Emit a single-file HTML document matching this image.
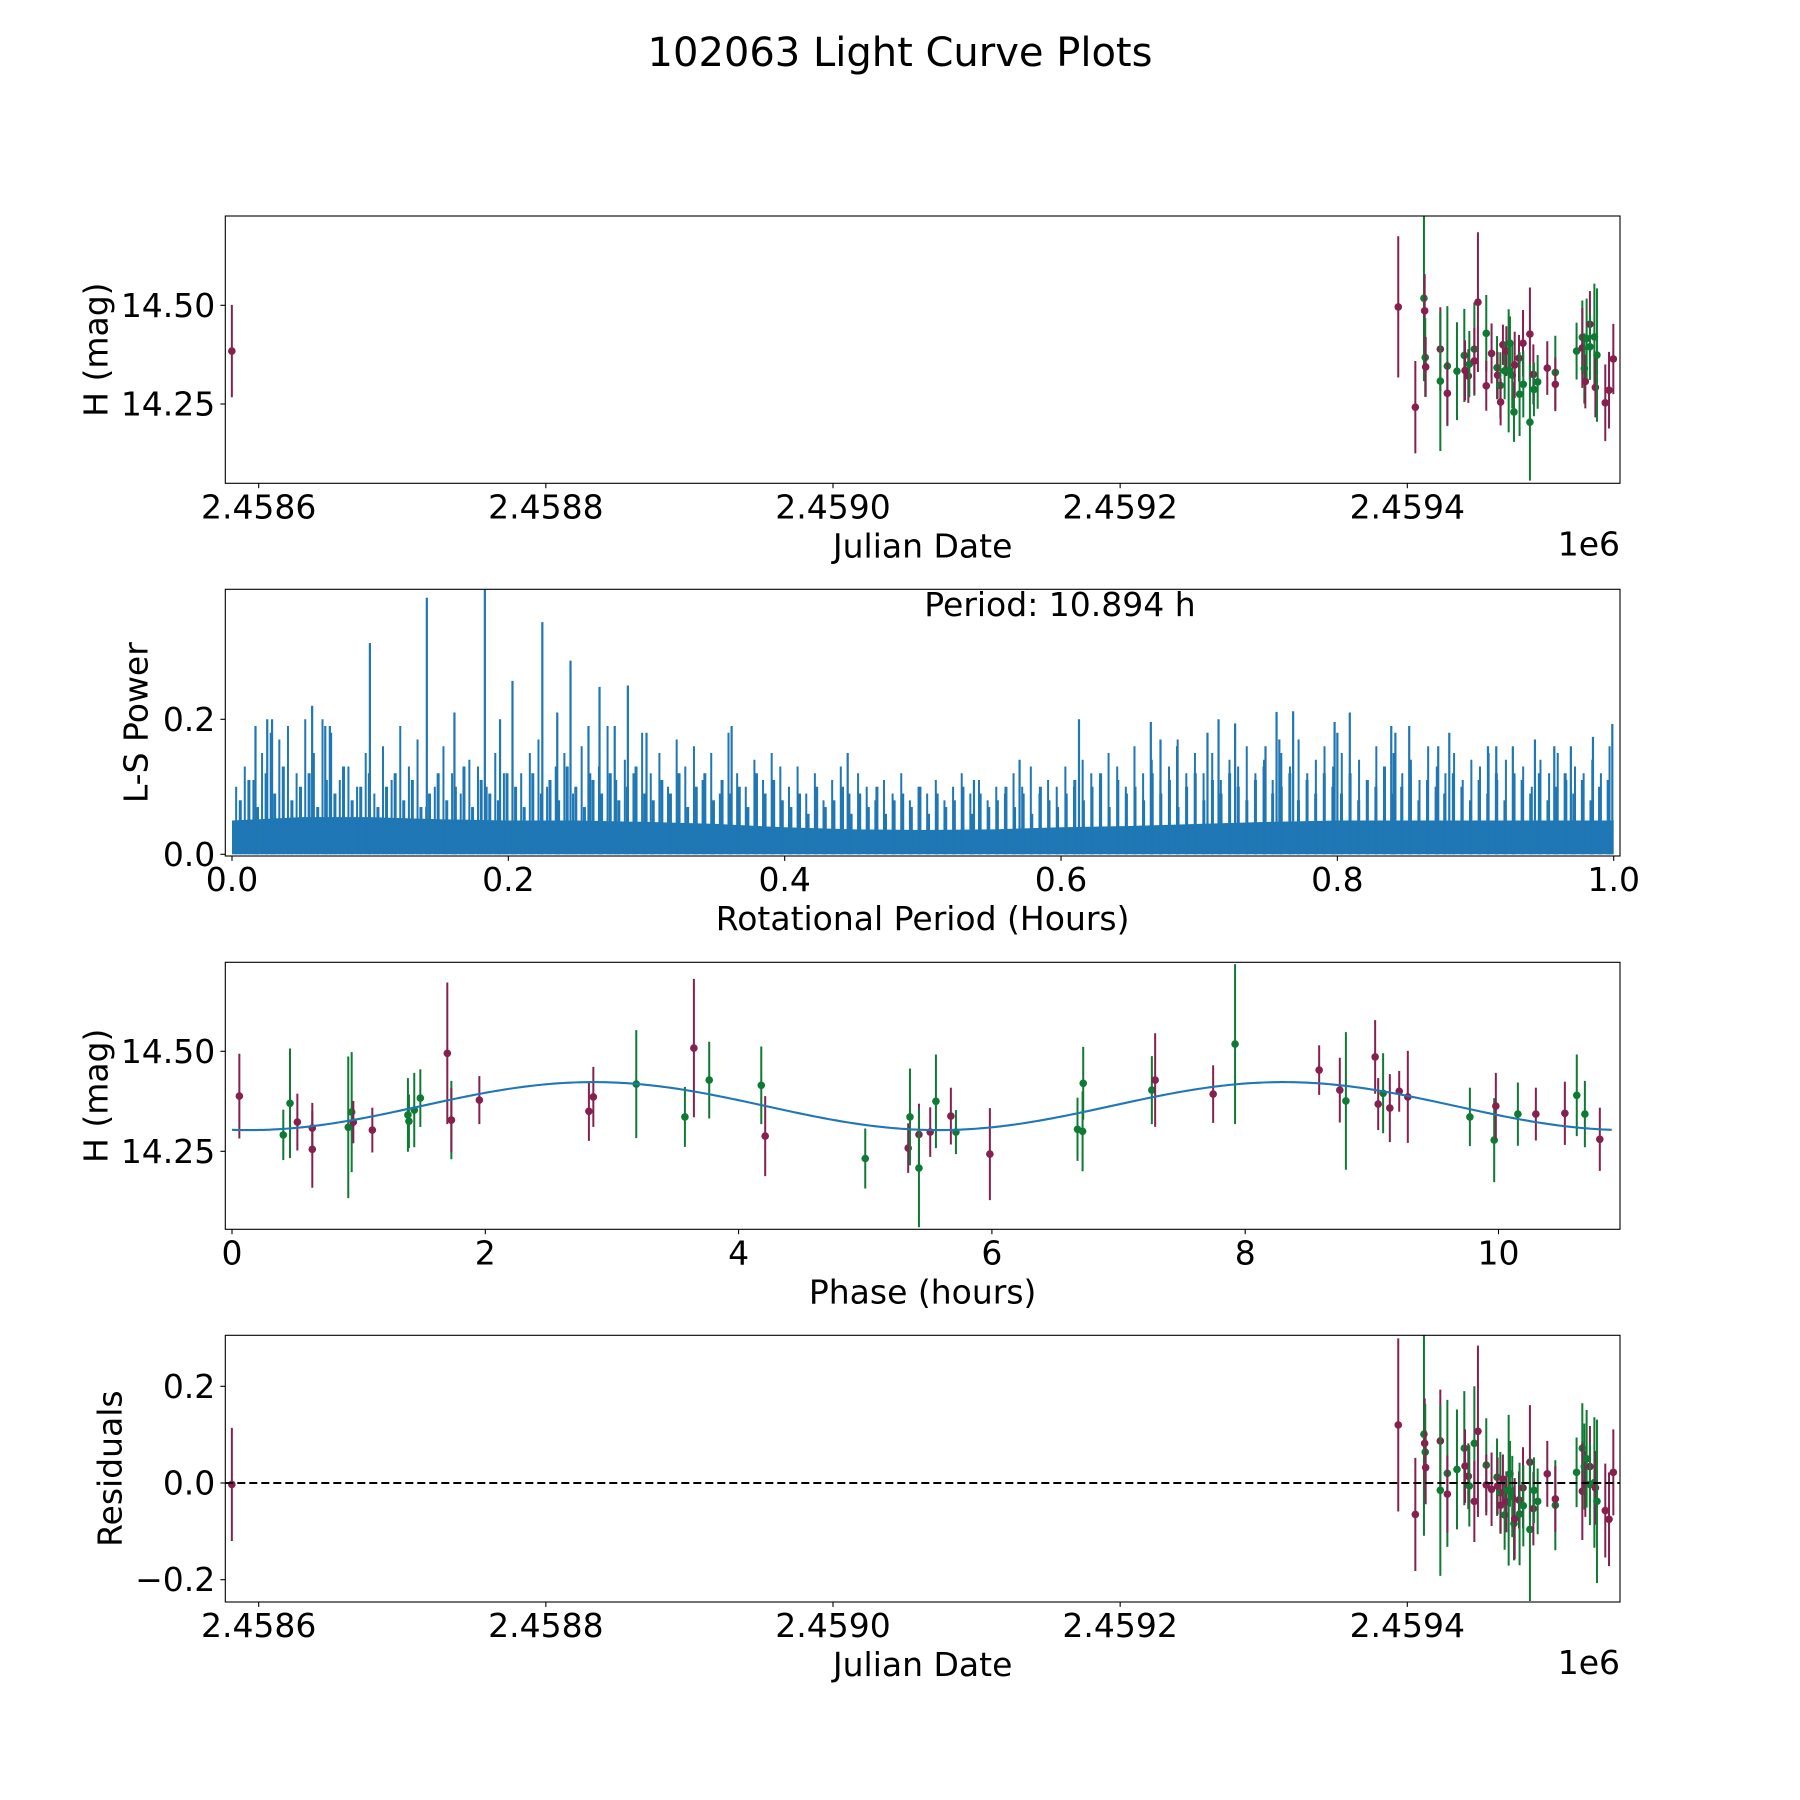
<!DOCTYPE html>
<html><head><meta charset="utf-8"><style>
html,body{margin:0;padding:0;background:#fff;}
svg{display:block;font-family:"DejaVu Sans","Liberation Sans",sans-serif;}
</style></head><body>
<svg id="fig" width="1800" height="1800" viewBox="0 0 1800 1800" xmlns="http://www.w3.org/2000/svg">
<rect x="0" y="0" width="1800" height="1800" fill="#fff"/>
<text x="900" y="66" font-size="40" text-anchor="middle">102063 Light Curve Plots</text>
</svg>
<script>
// ---------- data ----------
const jdTickValues = [2458600, 2458800, 2459000, 2459200, 2459400];
const jdTickLabels = ["2.4586","2.4588","2.4590","2.4592","2.4594"];
const jdValues = [2458581.3,2459393.7,2459405.6,2459411.6,2459412.1,2459412.5,2459412.8,2459423.0,2459423.0,2459427.9,2459427.9,2459434.6,2459439.7,2459440.2,2459442.5,2459443.2,2459446.7,2459446.7,2459449.2,2459455.0,2459455.0,2459458.7,2459462.5,2459462.9,2459464.8,2459465.0,2459466.6,2459467.8,2459469.0,2459470.6,2459471.5,2459473.1,2459474.3,2459474.8,2459477.8,2459478.2,2459480.6,2459480.8,2459485.4,2459485.4,2459487.8,2459488.2,2459490.8,2459497.5,2459503.1,2459503.1,2459517.9,2459521.9,2459521.9,2459523.3,2459524.0,2459524.9,2459527.2,2459527.2,2459530.3,2459531.0,2459532.1,2459537.9,2459540.5,2459543.5];
const magValues = [14.384,14.496,14.242,14.518,14.486,14.368,14.344,14.389,14.308,14.346,14.277,14.333,14.373,14.335,14.321,14.351,14.389,14.359,14.508,14.429,14.296,14.378,14.342,14.323,14.297,14.255,14.4,14.334,14.384,14.334,14.404,14.323,14.23,14.349,14.366,14.275,14.404,14.3,14.427,14.204,14.325,14.287,14.306,14.341,14.33,14.3,14.384,14.419,14.392,14.34,14.307,14.416,14.452,14.395,14.42,14.292,14.374,14.253,14.285,14.364];
const magErrors = [0.117,0.179,0.117,0.21,0.093,0.1,0.076,0.106,0.177,0.152,0.08,0.124,0.118,0.076,0.068,0.084,0.118,0.084,0.177,0.097,0.063,0.076,0.08,0.059,0.084,0.059,0.051,0.072,0.063,0.156,0.068,0.084,0.076,0.084,0.059,0.106,0.084,0.084,0.118,0.148,0.076,0.068,0.068,0.068,0.093,0.068,0.072,0.093,0.101,0.089,0.068,0.101,0.084,0.084,0.135,0.076,0.169,0.097,0.097,0.089];
const filterCodes = ["R","R","R","G","R","G","R","R","G","G","R","G","G","R","R","G","G","R","R","G","R","R","G","R","G","R","R","G","R","G","G","G","G","R","R","G","R","G","R","G","R","G","G","R","G","R","G","G","R","G","R","G","R","G","G","R","G","R","R","R"];
const residualValues = [-0.003,0.120,-0.065,0.101,0.082,0.064,0.032,0.087,-0.015,0.02,-0.023,0.028,0.072,0.035,0.014,-0.006,0.082,-0.038,0.107,0.037,-0.004,-0.013,0.012,-0.006,-0.02,-0.046,0.008,-0.066,-0.039,-0.015,0.019,-0.028,-0.084,-0.074,-0.035,-0.064,-0.01,-0.047,0.043,-0.096,-0.053,-0.015,-0.038,0.019,-0.046,-0.033,0.022,0.072,-0.017,0.034,-0.002,0.05,0.034,-0.003,0.001,-0.01,-0.038,-0.057,-0.075,0.022];

const phaseValues = [0.058,0.405,0.458,0.516,0.634,0.634,0.918,0.945,0.958,1.108,1.389,1.397,1.439,1.487,1.7,1.732,1.732,1.953,2.818,2.853,3.192,3.576,3.647,3.768,4.179,4.21,5.0,5.339,5.353,5.424,5.424,5.513,5.558,5.676,5.716,5.984,6.676,6.716,6.721,7.263,7.289,7.747,7.92,8.584,8.747,8.795,9.026,9.05,9.089,9.142,9.216,9.284,9.774,9.966,9.979,10.153,10.295,10.524,10.618,10.682,10.8];
const phaseMag = [14.388,14.291,14.37,14.323,14.308,14.255,14.31,14.348,14.323,14.303,14.341,14.325,14.353,14.383,14.495,14.328,14.328,14.378,14.35,14.386,14.418,14.336,14.508,14.428,14.415,14.288,14.232,14.258,14.336,14.292,14.208,14.298,14.375,14.338,14.298,14.243,14.305,14.3,14.42,14.403,14.428,14.393,14.518,14.453,14.403,14.376,14.486,14.368,14.395,14.358,14.4,14.386,14.336,14.278,14.363,14.343,14.343,14.345,14.39,14.343,14.28];
const phaseErr = [0.106,0.063,0.137,0.071,0.063,0.096,0.177,0.15,0.053,0.056,0.092,0.067,0.093,0.072,0.177,0.098,0.08,0.06,0.074,0.075,0.135,0.075,0.173,0.096,0.097,0.1,0.075,0.062,0.121,0.077,0.148,0.062,0.117,0.071,0.055,0.115,0.079,0.1,0.091,0.085,0.117,0.072,0.2,0.062,0.081,0.172,0.092,0.065,0.1,0.085,0.051,0.115,0.073,0.105,0.083,0.079,0.066,0.079,0.102,0.083,0.079];
const phaseFilter = ["R","G","G","R","R","R","G","G","R","R","G","G","G","G","R","G","R","R","R","R","G","G","R","G","G","R","G","R","G","R","G","R","G","R","G","R","G","G","G","G","R","R","G","R","R","G","R","R","G","R","R","R","G","G","R","G","R","R","G","G","R"];
const modelParams = [14.363, 0.06, 10.894, 0.13]; // mean, amplitude, rotation period (h), phase offset (h)

const lsPeakFreq = [0.017,0.0255,0.029,0.058,0.0675,0.0708,0.0998,0.141,0.161,0.183,0.194,0.203,0.2246,0.2354,0.245,0.258,0.266,0.277,0.2865,0.3,0.3616,0.4456,0.537,0.57,0.613,0.665,0.672,0.684,0.706,0.714,0.726,0.748,0.756,0.758,0.768,0.798,0.8,0.809,0.839,0.842,0.852,0.873,0.881,0.909,0.915,0.927,0.943,0.957,0.969,0.985,0.999];
const lsPeakPower = [0.19,0.20,0.20,0.22,0.19,0.19,0.313,0.38,0.21,0.40,0.20,0.257,0.344,0.21,0.287,0.19,0.248,0.19,0.25,0.18,0.19,0.15,0.11,0.14,0.20,0.196,0.17,0.16,0.18,0.20,0.194,0.16,0.211,0.17,0.212,0.196,0.18,0.21,0.19,0.18,0.19,0.16,0.18,0.16,0.16,0.16,0.17,0.16,0.16,0.174,0.193];
const lsGrass = [0.10,0.13,0.11,0.15,0.18,0.17,0.19,0.12,0.20,0.15,0.20,0.18,0.11,0.13,0.10,0.15,
0.09,0.16,0.11,0.19,0.13,0.17,0.07,0.10,0.16,0.12,0.09,0.14,0.13,0.10,0.15,0.12,
0.14,0.12,0.15,0.17,0.10,0.13,0.15,0.09,0.16,0.12,0.13,0.19,0.11,0.14,0.12,0.18,
0.12,0.15,0.10,0.17,0.13,0.16,0.11,0.15,0.09,0.18,0.12,0.10,0.14,0.11,0.15,0.13,
0.10,0.13,0.09,0.12,0.08,0.11,0.13,0.09,0.12,0.10,0.08,0.11,0.09,0.12,0.08,0.10,
0.09,0.11,0.08,0.10,0.12,0.09,0.11,0.08,0.10,0.09,0.12,0.10,0.13,0.09,0.11,0.10,
0.13,0.10,0.14,0.12,0.11,0.15,0.13,0.10,0.16,0.12,0.14,0.11,0.13,0.17,0.12,0.15,
0.12,0.15,0.11,0.14,0.13,0.16,0.12,0.14,0.11,0.15,0.13,0.17,0.12,0.14,0.16,0.13,
0.15,0.12,0.14,0.11,0.16,0.13,0.15,0.12,0.14,0.11,0.16,0.13,0.12,0.15,0.11,0.14,
0.13,0.15,0.11,0.14,0.12,0.13,0.10,0.14,0.12,0.15,0.11,0.13,0.12,0.14,0.12,0.16];
const lsGrass2 = [0.08,0.11,0.07,0.12,0.09,0.13,0.08,0.10,0.12,0.07,0.11,0.09,0.13,0.08,0.10,0.12,
0.07,0.10,0.12,0.08,0.11,0.07,0.09,0.12,0.08,0.10,0.13,0.07,0.11,0.09,0.08,0.12,
0.10,0.07,0.12,0.09,0.11,0.08,0.13,0.10,0.07,0.11,0.09,0.12,0.08,0.10,0.13,0.09,
0.08,0.11,0.09,0.12,0.07,0.10,0.12,0.08,0.11,0.09,0.10,0.07,0.12,0.09,0.11,0.08,
0.07,0.09,0.06,0.10,0.07,0.08,0.10,0.06,0.09,0.07,0.10,0.06,0.08,0.09,0.07,0.10,
0.06,0.09,0.07,0.08,0.10,0.06,0.09,0.07,0.08,0.10,0.07,0.09,0.06,0.10,0.08,0.07,
0.09,0.11,0.08,0.10,0.12,0.07,0.11,0.09,0.10,0.08,0.12,0.09,0.11,0.07,0.10,0.12,
0.08,0.11,0.09,0.12,0.10,0.08,0.11,0.13,0.09,0.10,0.12,0.08,0.11,0.09,0.12,0.10,
0.09,0.12,0.08,0.11,0.10,0.13,0.09,0.10,0.12,0.08,0.11,0.10,0.09,0.12,0.10,0.08,
0.11,0.09,0.12,0.08,0.10,0.11,0.09,0.12,0.08,0.10,0.12,0.09,0.11,0.08,0.10,0.11];
const lsBody = [0.05,0.055,0.055,0.052,0.05,0.05,0.048,0.045,0.04,0.037,0.036,0.037,0.04,0.042,0.045,0.048,0.05,0.05,0.05,0.05,0.05];
const lsTickValues = [0.0,0.2,0.4,0.6,0.8,1.0];
const lsTickLabels = ["0.0","0.2","0.4","0.6","0.8","1.0"];
const lsYTicks = [0.0,0.2];
const lsYLabels = ["0.0","0.2"];
const magTicks = [14.25,14.50];
const magTickLabels = ["14.25","14.50"];
const phaseTicks = [0,2,4,6,8,10];
const phaseTickLabels = ["0","2","4","6","8","10"];
const residTicks = [-0.2,0.0,0.2];
const residTickLabels = ["\u22120.2","0.0","0.2"];

// ---------- rendering ----------
const NS = "http://www.w3.org/2000/svg";
const svg = document.getElementById("fig");
const COL = {R:"#86204f", G:"#0e7a33"};
const FS = 33;
function mk(tag, attrs, parent){const e=document.createElementNS(NS,tag);for(const k in attrs)e.setAttribute(k,attrs[k]);(parent||svg).appendChild(e);return e;}
function scale(d0,d1,r0,r1){return v=>r0+(v-d0)/(d1-d0)*(r1-r0);}

const L=225.3, R=1620;
function axesFrame(g, top, bot){
  const r=mk("rect",{x:L,y:top,width:R-L,height:bot-top,fill:"none",stroke:"#000","stroke-width":1.1},g);
  
  
}
function xTicks(g, bot, vals, labels, sx, name){
  vals.forEach((v,i)=>{
    const x=sx(v);
    mk("line",{x1:x,x2:x,y1:bot,y2:bot+4.9,stroke:"#000","stroke-width":1.1},g);
    const t=mk("text",{x:x,y:bot+35,"font-size":FS,"text-anchor":"middle"},g);
    t.textContent=labels[i];
    
    
  });
}
function yTicks(g, vals, labels, sy, name){
  vals.forEach((v,i)=>{
    const y=sy(v);
    mk("line",{x1:L-4.9,x2:L,y1:y,y2:y,stroke:"#000","stroke-width":1.1},g);
    const t=mk("text",{x:L-10,y:y,"font-size":FS,"text-anchor":"end","dominant-baseline":"central"},g);
    t.textContent=labels[i];
    
    
  });
}
function label(g, txt, x, y, rot, name, anchor){
  const t=mk("text",{x:x,y:y,"font-size":FS,"text-anchor":anchor||"middle"},g);
  if(rot){t.setAttribute("transform","rotate(-90 "+x+" "+y+")");t.setAttribute("dominant-baseline","central");}
  t.textContent=txt;
  
  
  return t;
}
function errPoints(g, xs, ys, es, cs, sx, sy, name, clipId){
  const eg=mk("g",{"clip-path":"url(#"+clipId+")"},g);
  xs.forEach((xv,i)=>{
    const x=sx(xv), c=COL[cs[i]];
    const bar=mk("line",{x1:x,x2:x,y1:sy(ys[i]+es[i]),y2:sy(ys[i]-es[i]),stroke:c,"stroke-width":2},eg);
    
    
    const p=mk("circle",{cx:x,cy:sy(ys[i]),r:3.8,fill:c},eg);
    
    
  });
}
function clip(id, top, bot){
  const d=mk("defs",{});const cp=mk("clipPath",{id:id},d);
  mk("rect",{x:L,y:top,width:R-L,height:bot-top},cp);
}

// Panel 1: light curve vs JD
(function(){
  const top=216,bot=483.3;
  const g=mk("g",{});
  
  
  clip("c1",top,bot);
  const sx=scale(2458600,2459400,258.7,1407.3);
  const sy=scale(14.5,14.25,305.3,404);
  errPoints(g,jdValues,magValues,magErrors,filterCodes,sx,sy,'magnitude','c1');
  axesFrame(g,top,bot);
  xTicks(g,bot,jdTickValues,jdTickLabels,sx,'jd-tick-label');
  yTicks(g,magTicks,magTickLabels,sy,'mag-tick-label');
  label(g,"Julian Date",(L+R)/2,bot+74,false,'x-axis-title');
  label(g,"1e6",R,bot+72,false,'x-offset-text','end');
  label(g,"H (mag)",96,(top+bot)/2,true,'y-axis-title');
})();

// Panel 2: Lomb-Scargle periodogram
(function(){
  const top=589.3,bot=856;
  const g=mk("g",{});
  
  
  clip("c2",top,bot);
  const sx=scale(0,1,232,1613.7);
  const sy=scale(0,0.2,854.3,719.3);
  const cg=mk("g",{"clip-path":"url(#c2)"},g);
  let pts=[];
  lsBody.forEach((v,i)=>{pts.push(sx(i/(lsBody.length-1))+","+sy(v));});
  pts.push(sx(1)+","+sy(0)); pts.push(sx(0)+","+sy(0));
  const body=mk("polygon",{points:pts.join(" "),fill:"#1f77b4"},cg);
  
  
  lsGrass2.forEach((v,i)=>{
    const x=sx(0.006+i/(lsGrass2.length-1)*0.99);
    const l=mk("line",{x1:x,x2:x,y1:sy(0),y2:sy(v),stroke:"#1f77b4","stroke-width":3},cg);
    
    
  });
  lsGrass.forEach((v,i)=>{
    const x=sx(0.003+i/(lsGrass.length-1)*0.994);
    const l=mk("line",{x1:x,x2:x,y1:sy(0),y2:sy(v),stroke:"#1f77b4","stroke-width":2},cg);
    
    
  });
  lsPeakFreq.forEach((f,i)=>{
    const x=sx(f);
    const l=mk("line",{x1:x,x2:x,y1:sy(0),y2:sy(lsPeakPower[i]),stroke:"#1f77b4","stroke-width":2.2},cg);
    
    
  });
  axesFrame(g,top,bot);
  xTicks(g,bot,lsTickValues,lsTickLabels,sx,'period-tick-label');
  yTicks(g,lsYTicks,lsYLabels,sy,'power-tick-label');
  label(g,"Rotational Period (Hours)",(L+R)/2,bot+74,false,'x-axis-title');
  label(g,"L-S Power",136,(top+bot)/2,true,'y-axis-title');
  label(g,"Period: 10.894 h",1060,616,false,'period-annotation');
})();

// Panel 3: phased light curve
(function(){
  const top=962.3,bot=1229.3;
  const g=mk("g",{});
  
  
  clip("c3",top,bot);
  const sx=scale(0,2,232,485.3);
  const sy=scale(14.5,14.25,1051.3,1151.3);
  errPoints(g,phaseValues,phaseMag,phaseErr,phaseFilter,sx,sy,'phase','c3');
  const [mMean,mAmp,mPer,mOff]=modelParams;
  let d="";
  for(let i=0;i<=400;i++){
    const p=mPer*i/400;
    const h=mMean-mAmp*Math.cos(4*Math.PI*(p-mOff)/mPer);
    d+=(i?"L":"M")+sx(p).toFixed(2)+" "+sy(h).toFixed(2);
  }
  const path=mk("path",{d:d,fill:"none",stroke:"#1f77b4","stroke-width":2.1},g);
  
  
  axesFrame(g,top,bot);
  xTicks(g,bot,phaseTicks,phaseTickLabels,sx,'phase-tick-label');
  yTicks(g,magTicks,magTickLabels,sy,'mag-tick-label');
  label(g,"Phase (hours)",(L+R)/2,bot+74,false,'x-axis-title');
  label(g,"H (mag)",96,(top+bot)/2,true,'y-axis-title');
})();

// Panel 4: residuals
(function(){
  const top=1335.3,bot=1602;
  const g=mk("g",{});
  
  
  clip("c4",top,bot);
  const sx=scale(2458600,2459400,258.7,1407.3);
  const sy=scale(0,0.2,1483,1386.3);
  errPoints(g,jdValues,residualValues,magErrors,filterCodes,sx,sy,'residual','c4');
  const zl=mk("line",{x1:L,x2:R,y1:sy(0),y2:sy(0),stroke:"#000","stroke-width":2,"stroke-dasharray":"8 4"},g);
  
  
  axesFrame(g,top,bot);
  xTicks(g,bot,jdTickValues,jdTickLabels,sx,'jd-tick-label');
  yTicks(g,residTicks,residTickLabels,sy,'residual-tick-label');
  label(g,"Julian Date",(L+R)/2,bot+74,false,'x-axis-title');
  label(g,"1e6",R,bot+72,false,'x-offset-text','end');
  label(g,"Residuals",110,(top+bot)/2,true,'y-axis-title');
})();
</script>
</body></html>
